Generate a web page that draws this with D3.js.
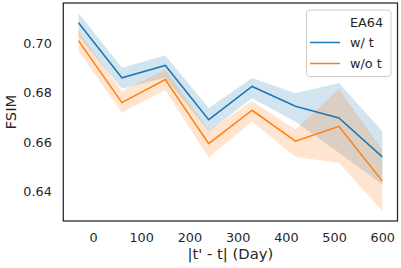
<!DOCTYPE html>
<html>
<head>
<meta charset="utf-8">
<script src="https://cdn.jsdelivr.net/npm/d3@7"></script>
<style>
  body { margin: 0; background: #fff; }
  svg { display: block; font-family: "DejaVu Sans", sans-serif; }
</style>
</head>
<body>
<svg id="chart" width="401" height="268"></svg>
<script>
// данные графика
const days = [-30, 60, 150, 240, 330, 420, 510, 600];
const seriesNames = ["w/ t", "w/o t"];
const legendTitle = "EA64";

const withT      = [0.7082, 0.6860, 0.6910, 0.6691, 0.6825, 0.6745, 0.6698, 0.6541];
const withTLow   = [0.7029, 0.6816, 0.6860, 0.6644, 0.6778, 0.6683, 0.6558, 0.6429];
const withTHigh  = [0.7122, 0.6901, 0.6950, 0.6738, 0.6859, 0.6798, 0.6839, 0.6644];

const withoutT     = [0.7010, 0.6760, 0.6853, 0.6594, 0.6729, 0.6604, 0.6664, 0.6443];
const withoutTLow  = [0.6968, 0.6719, 0.6811, 0.6537, 0.6684, 0.6540, 0.6517, 0.6322];
const withoutTHigh = [0.7048, 0.6807, 0.6894, 0.6648, 0.6765, 0.6651, 0.6815, 0.6570];

const xTicks = [0, 100, 200, 300, 400, 500, 600];
const yTicks = [0.64, 0.66, 0.68, 0.70];

const colors = ["#1f77b4", "#ff7f0e"];

const series = [
  { name: seriesNames[0], mean: withT, low: withTLow, high: withTHigh },
  { name: seriesNames[1], mean: withoutT, low: withoutTLow, high: withoutTHigh }
];

const svg = d3.select("#chart");
const area = { left: 63.3, right: 397.5, top: 3, bottom: 221 };

// шкалы с отступом 5% как в matplotlib
const xExt = d3.extent(days);
const xPad = (xExt[1] - xExt[0]) * 0.05;
const scX = d3.scaleLinear()
  .domain([xExt[0] - xPad, xExt[1] + xPad])
  .range([area.left, area.right]);

const allY = series.flatMap(s => s.low.concat(s.high));
const yExt = d3.extent(allY);
const yPad = (yExt[1] - yExt[0]) * 0.05;
const scY = d3.scaleLinear()
  .domain([yExt[0] - yPad, yExt[1] + yPad])
  .range([area.bottom, area.top]);

// доверительные интервалы
series.forEach((s, i) => {
  const band = d3.area()
    .x((d, j) => scX(days[j]))
    .y0((d, j) => scY(s.low[j]))
    .y1((d, j) => scY(s.high[j]));
  svg.append("path")
    .attr("d", band(days))
    .attr("fill", colors[i])
    .attr("fill-opacity", 0.2);
});

// линии
series.forEach((s, i) => {
  const line = d3.line()
    .x((d, j) => scX(days[j]))
    .y(d => scY(d));
  svg.append("path")
    .attr("d", line(s.mean))
    .attr("fill", "none")
    .attr("stroke", colors[i])
    .attr("stroke-width", 1.5);
});

// рамка
svg.append("rect")
  .attr("x", area.left)
  .attr("y", area.top)
  .attr("width", area.right - area.left)
  .attr("height", area.bottom - area.top)
  .attr("fill", "none")
  .attr("stroke", "#262626")
  .attr("stroke-width", 1.25);

// оси без засечек
const axX = svg.append("g")
  .attr("transform", `translate(0,${area.bottom})`)
  .call(d3.axisBottom(scX).tickValues(xTicks).tickSize(0).tickPadding(11.5).tickFormat(d3.format("d")));
const axY = svg.append("g")
  .attr("transform", `translate(${area.left},0)`)
  .call(d3.axisLeft(scY).tickValues(yTicks).tickSize(0).tickPadding(11.5).tickFormat(d3.format(".2f")));
[axX, axY].forEach(ax => {
  ax.select(".domain").remove();
  ax.selectAll("text")
    .attr("fill", "#262626")
    .style("font-size", "12.8px")
    .style("font-family", "DejaVu Sans");
});

// подписи осей
svg.append("text")
  .attr("x", (area.left + area.right) / 2)
  .attr("y", 258.5)
  .attr("text-anchor", "middle")
  .attr("fill", "#262626")
  .style("font-size", "14.8px")
  .text("|t' - t| (Day)");

svg.append("text")
  .attr("transform", `translate(16,${(area.top + area.bottom) / 2}) rotate(-90)`)
  .attr("text-anchor", "middle")
  .attr("fill", "#262626")
  .style("font-size", "14.8px")
  .text("FSIM");

// легенда
const lg = svg.append("g");
lg.append("rect")
  .attr("x", 306.5).attr("y", 10)
  .attr("width", 84.5).attr("height", 66.5)
  .attr("rx", 3)
  .attr("fill", "#fff").attr("fill-opacity", 0.8)
  .attr("stroke", "#cccccc").attr("stroke-width", 1);

lg.append("text")
  .attr("x", 350).attr("y", 26.5)
  .attr("fill", "#262626")
  .style("font-size", "12.8px")
  .text(legendTitle);

series.forEach((s, i) => {
  const y = 42.5 + i * 21;
  lg.append("line")
    .attr("x1", 310).attr("x2", 340)
    .attr("y1", y).attr("y2", y)
    .attr("stroke", colors[i]).attr("stroke-width", 1.5);
  lg.append("text")
    .attr("x", 350).attr("y", y + 4.5)
    .attr("fill", "#262626")
    .style("font-size", "12.8px")
    .text(s.name);
});
</script>
</body>
</html>
